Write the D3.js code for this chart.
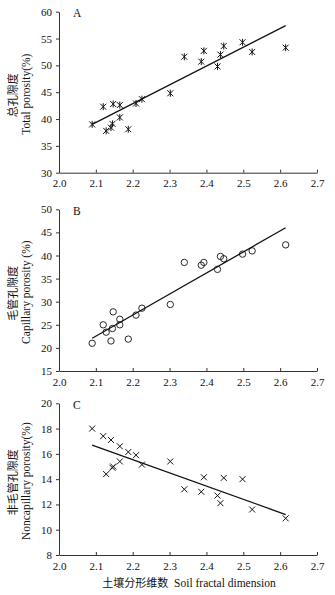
<!DOCTYPE html>
<html>
<head>
<meta charset="utf-8">
<script src="https://cdn.jsdelivr.net/npm/d3@7"></script>
<style>
  body { margin: 0; background: #fff; }
  svg text { fill: #111; }
</style>
</head>
<body>
<div id="chart"></div>
<script>
// Soil fractal dimension (shared x values for the three panels)
const fractalDim = [2.09, 2.12, 2.128, 2.141, 2.145, 2.147, 2.165, 2.165, 2.188, 2.209, 2.225,
                    2.302, 2.34, 2.386, 2.393, 2.43, 2.438, 2.447, 2.498, 2.524, 2.615];
const totalPorosity = [39.0, 42.3, 37.8, 38.4, 39.1, 42.8, 42.6, 40.3, 38.1, 42.9, 43.7,
                       44.8, 51.6, 50.7, 52.7, 49.8, 52.0, 53.6, 54.3, 52.5, 53.3];
const capillaryPorosity = [21.0, 25.0, 23.4, 21.5, 24.2, 27.8, 26.2, 25.0, 21.9, 27.1, 28.6,
                           29.4, 38.5, 37.9, 38.5, 37.0, 39.8, 39.3, 40.3, 41.0, 42.3];
const noncapillaryPorosity = [18.0, 17.4, 14.4, 17.1, 14.9, 15.0, 16.6, 15.4, 16.15, 15.9, 15.15,
                              15.4, 13.2, 13.0, 14.15, 12.7, 12.1, 14.1, 14.0, 11.6, 10.9];

// fitted lines, read at the two ends
const fitX = [2.09, 2.615];
const fitTotal = [39.0, 57.4];
const fitCapillary = [22.1, 46.0];
const fitNoncapillary = [16.7, 11.2];

// tick values
const xTicks = [2.0, 2.1, 2.2, 2.3, 2.4, 2.5, 2.6, 2.7];
const yTicksA = [30, 35, 40, 45, 50, 55, 60];
const yTicksB = [15, 20, 25, 30, 35, 40, 45, 50];
const yTicksC = [8, 10, 12, 14, 16, 18, 20];

const width = 335, height = 595;
const serif = "'Liberation Serif', 'DejaVu Serif', serif";
const cjk = "'Noto Sans CJK SC', sans-serif";

const svg = d3.select("#chart").append("svg")
  .attr("width", width)
  .attr("height", height);

const x = d3.scaleLinear().domain([2.0, 2.7]).range([59, 317]);

const panels = [
  {letter: "A", ys: totalPorosity, fit: fitTotal, ticks: yTicksA, top: 11.7, bottom: 172.7,
   zh: "总孔隙度", en: "Total porosity(%)", marker: "star"},
  {letter: "B", ys: capillaryPorosity, fit: fitCapillary, ticks: yTicksB, top: 209.3, bottom: 371,
   zh: "毛管孔隙度", en: "Capillary porosity (%)", marker: "circle"},
  {letter: "C", ys: noncapillaryPorosity, fit: fitNoncapillary, ticks: yTicksC, top: 403.3, bottom: 555,
   zh: "非毛管孔隙度", en: "Noncapillary porosity(%)", marker: "cross"}
];

panels.forEach(p => {
  const y = d3.scaleLinear()
    .domain(d3.extent(p.ticks))
    .range([p.bottom, p.top]);

  const g = svg.append("g");

  // x axis, ticks pointing up into the plot
  const xa = g.append("g")
    .attr("transform", `translate(0,${p.bottom})`)
    .call(d3.axisBottom(x).tickValues(xTicks).tickFormat(d3.format(".1f"))
      .tickSizeInner(-3).tickSizeOuter(0).tickPadding(7));
  xa.selectAll("text").attr("dy", "0.71em");

  // y axis
  const ya = g.append("g")
    .attr("transform", `translate(${x(2.0)},0)`)
    .call(d3.axisLeft(y).tickValues(p.ticks).tickFormat(d3.format("d"))
      .tickSizeInner(3).tickSizeOuter(0).tickPadding(4));

  [xa, ya].forEach(a => {
    a.select(".domain").attr("stroke", "#333").attr("stroke-width", 1);
    a.selectAll(".tick line").attr("stroke", "#333");
    a.selectAll("text")
      .style("font-family", serif)
      .style("font-size", "11px")
      .attr("fill", "#111");
  });

  // panel letter
  g.append("text")
    .attr("x", 73)
    .attr("y", p.top + 5.5)
    .style("font-family", serif)
    .style("font-size", "11.5px")
    .text(p.letter);

  // y title, Chinese then English
  const cy = (p.top + p.bottom) / 2;
  g.append("text")
    .attr("transform", `translate(16.5,${cy + 3}) rotate(-90)`)
    .attr("text-anchor", "middle")
    .style("font-family", cjk)
    .style("font-size", "11px")
    .text(p.zh);
  g.append("text")
    .attr("transform", `translate(30,${cy + 2}) rotate(-90)`)
    .attr("text-anchor", "middle")
    .style("font-family", serif)
    .style("font-size", "11.5px")
    .text(p.en);

  // fitted line
  g.append("line")
    .attr("x1", x(fitX[0])).attr("y1", y(p.fit[0]))
    .attr("x2", x(fitX[1])).attr("y2", y(p.fit[1]))
    .attr("stroke", "#111")
    .attr("stroke-width", 1.3);

  // points
  const pts = g.selectAll("g.pt")
    .data(fractalDim.map((d, i) => [d, p.ys[i]]))
    .enter().append("g")
    .attr("class", "pt")
    .attr("transform", d => `translate(${x(d[0])},${y(d[1])})`);

  if (p.marker === "circle") {
    pts.append("circle")
      .attr("r", 3.2)
      .attr("fill", "none")
      .attr("stroke", "#111")
      .attr("stroke-width", 0.9);
  } else {
    const s = 3;
    let path = `M${-s},${-s}L${s},${s}M${-s},${s}L${s},${-s}`;
    if (p.marker === "star") path += `M0,${-s - 0.5}L0,${s + 0.5}`;
    pts.append("path")
      .attr("d", path)
      .attr("fill", "none")
      .attr("stroke", "#111")
      .attr("stroke-width", 1);
  }
});

// shared x title
const xt = svg.append("text")
  .attr("x", 189)
  .attr("y", 587)
  .attr("text-anchor", "middle");
xt.append("tspan")
  .style("font-family", cjk)
  .style("font-size", "11px")
  .text("土壤分形维数");
xt.append("tspan")
  .style("font-family", serif)
  .style("font-size", "11.5px")
  .text("\u00a0\u00a0Soil fractal dimension");
</script>
</body>
</html>
